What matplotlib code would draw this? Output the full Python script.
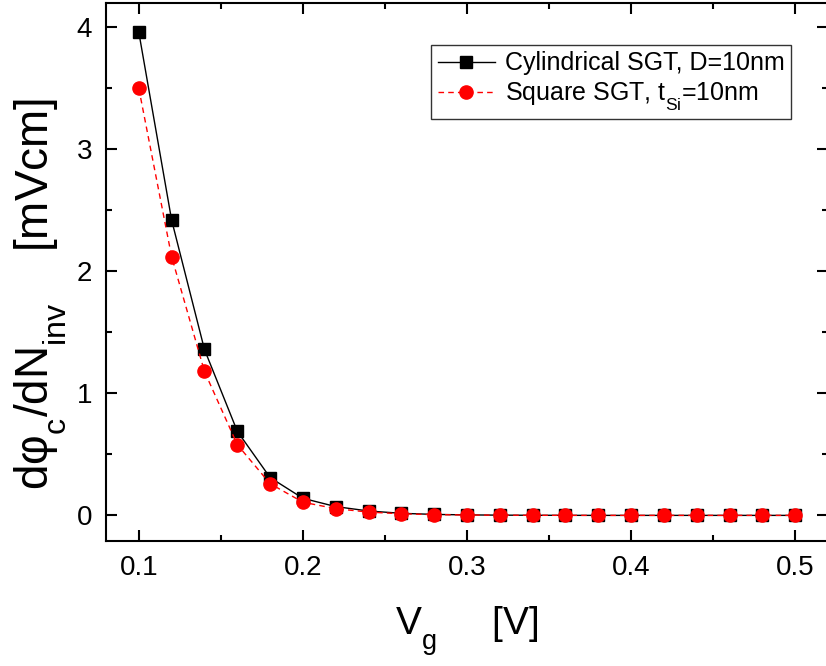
import matplotlib
matplotlib.use("Agg")
import matplotlib.pyplot as plt
from matplotlib.ticker import MultipleLocator

try:
    import matplotlib._mathtext as _mt
    _mt.FontConstantsBase.sub1 = 0.75
    _mt.FontConstantsBase.subdrop = 0.75
except Exception:
    pass

plt.rcParams['font.family'] = ['Liberation Sans', 'DejaVu Sans']
plt.rcParams['mathtext.fontset'] = 'custom'
plt.rcParams['mathtext.rm'] = 'Liberation Sans'
plt.rcParams['mathtext.it'] = 'Liberation Sans'

vg = [0.10, 0.12, 0.14, 0.16, 0.18, 0.20, 0.22, 0.24, 0.26, 0.28, 0.30,
      0.32, 0.34, 0.36, 0.38, 0.40, 0.42, 0.44, 0.46, 0.48, 0.50]
cyl = [3.96, 2.42, 1.36, 0.69, 0.31, 0.14, 0.072, 0.036, 0.017, 0.008, 0.004,
       0.002, 0.001, 0.0005, 0.0, 0.0, 0.0, 0.0, 0.0, 0.0, 0.0]
sq = [3.50, 2.12, 1.18, 0.58, 0.26, 0.108, 0.055, 0.027, 0.013, 0.006, 0.003,
      0.0015, 0.0007, 0.0003, 0.0, 0.0, 0.0, 0.0, 0.0, 0.0, 0.0]

labels = ['Cylindrical SGT, D=10nm', r'Square SGT, $\mathregular{t_{Si}}$=10nm']

fig = plt.figure(figsize=(8.26, 6.66), dpi=100)
ax = fig.add_axes([106/826, 1-541/666, (828-106)/826, (541-3)/666])

ax.plot(vg, cyl, color='black', lw=1.0, marker='s', ms=8.3,
        mec='black', mfc='black', label=labels[0], zorder=3)
ax.plot(vg, sq, color='red', lw=1.0, ls=(0, (4, 3)), marker='o', ms=9.5,
        mec='red', mfc='red', label=labels[1], zorder=4)

ax.set_xlim(0.08, 0.52)
ax.set_ylim(-0.21, 4.2)
ax.xaxis.set_minor_locator(MultipleLocator(0.05))
ax.yaxis.set_minor_locator(MultipleLocator(0.5))
ax.set_xticks([0.1, 0.2, 0.3, 0.4, 0.5])
ax.set_xticklabels(['0.1', '0.2', '0.3', '0.4', '0.5'])
ax.set_yticks([0, 1, 2, 3, 4])
ax.set_yticklabels(['0', '1', '2', '3', '4'])

ax.tick_params(which='both', direction='in', top=True, right=True,
               width=1.5, labelsize=20)
ax.tick_params(which='major', length=8, pad=10)
ax.tick_params(which='minor', length=4.5)
for s in ax.spines.values():
    s.set_linewidth(1.5)

ax.set_xlabel(r'$\mathregular{V_g}$     [V]', fontsize=28, labelpad=17)
ax.set_ylabel(r'$\mathregular{dφ_c/dN_{inv}}$    [mVcm]', fontsize=33)
ax.yaxis.set_label_coords((69-106)/722, 1-(294-3)/538)

leg = ax.legend(loc='upper right', bbox_to_anchor=((791-106)/722, 1-(45-3)/538),
                fontsize=18, frameon=True, fancybox=False, edgecolor='black',
                borderpad=0.25, handlelength=2.3, handletextpad=0.4,
                labelspacing=0.2, borderaxespad=0.0)
leg.get_frame().set_linewidth(1.0)

fig.savefig('out.png', dpi=100)
